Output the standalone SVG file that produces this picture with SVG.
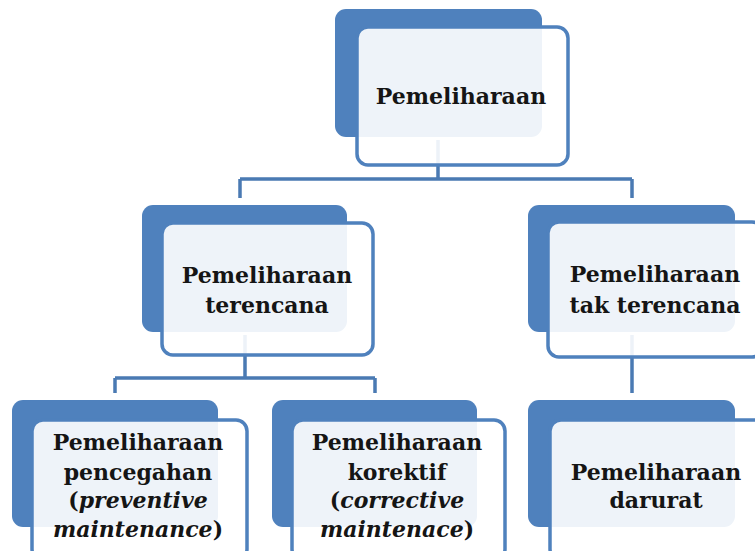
<svg xmlns="http://www.w3.org/2000/svg" width="755" height="551" viewBox="0 0 755 551">
<style>
.back{fill:#4f81bd;}
.front{fill:#ffffff;fill-opacity:0.9;stroke:#4f81bd;stroke-width:3.5;}
.conn{fill:none;stroke:#4a7ab3;stroke-width:3.5;}
.t{font-family:'DejaVu Serif',serif;font-weight:bold;font-size:22px;fill:#151515;text-anchor:middle;}
.it{font-style:italic;}
</style>
<rect width="755" height="551" fill="#ffffff"/>
<g id="connectors">
<path class="conn" d="M438,140 V179 M240,179 H632 M240,179 V198 M632,179 V198"/>
<path class="conn" d="M245,335 V378 M115,378 H375 M115,378 V393 M375,378 V393"/>
<path class="conn" d="M632,335 V393"/>
</g>
<g id="n-pemeliharaan">
<rect class="back" x="335" y="9" width="207" height="128" rx="11"/>
<rect class="front" x="357" y="27" width="211" height="138" rx="11"/>
<text class="t" x="461" y="104">Pemeliharaan</text>
</g>
<g id="n-terencana">
<rect class="back" x="142" y="205" width="205" height="127" rx="11"/>
<rect class="front" x="162" y="223" width="211" height="132" rx="11"/>
<text class="t" x="267" y="283">Pemeliharaan</text>
<text class="t" x="267" y="313">terencana</text>
</g>
<g id="n-tak-terencana">
<rect class="back" x="528" y="205" width="207" height="127" rx="11"/>
<rect class="front" x="548" y="222" width="215" height="135" rx="11"/>
<text class="t" x="655" y="282">Pemeliharaan</text>
<text class="t" x="655" y="313">tak terencana</text>
</g>
<g id="n-pencegahan">
<rect class="back" x="12" y="400" width="206" height="127" rx="11"/>
<rect class="front" x="32" y="420" width="215" height="140" rx="11"/>
<text class="t" x="138" y="450">Pemeliharaan</text>
<text class="t" x="138" y="480">pencegahan</text>
<text class="t" x="138" y="508">(<tspan class="it">preventive</tspan></text>
<text class="t" x="138" y="537"><tspan class="it">maintenance</tspan>)</text>
</g>
<g id="n-korektif">
<rect class="back" x="272" y="400" width="205" height="127" rx="11"/>
<rect class="front" x="292" y="420" width="213" height="140" rx="11"/>
<text class="t" x="397" y="450">Pemeliharaan</text>
<text class="t" x="397" y="480">korektif</text>
<text class="t" x="397" y="508">(<tspan class="it">corrective</tspan></text>
<text class="t" x="397" y="537"><tspan class="it">maintenace</tspan>)</text>
</g>
<g id="n-darurat">
<rect class="back" x="528" y="400" width="207" height="127" rx="11"/>
<rect class="front" x="550" y="420" width="215" height="140" rx="11"/>
<text class="t" x="656" y="480">Pemeliharaan</text>
<text class="t" x="656" y="508">darurat</text>
</g>
</svg>
